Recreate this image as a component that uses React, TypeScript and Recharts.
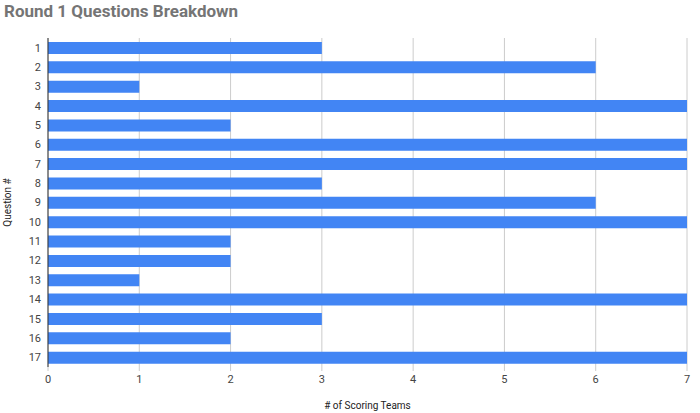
import { BarChart, Bar, XAxis, YAxis, CartesianGrid } from 'recharts'

const questions = ['1', '2', '3', '4', '5', '6', '7', '8', '9', '10', '11', '12', '13', '14', '15', '16', '17']
const scoringTeams = [3, 6, 1, 7, 2, 7, 7, 3, 6, 7, 2, 2, 1, 7, 3, 2, 7]
const xTicks = [0, 1, 2, 3, 4, 5, 6, 7]

const data = questions.map((q, i) => ({ question: q, teams: scoringTeams[i] }))

const font = 'Roboto, "Noto Sans", sans-serif'

export default function App() {
    return (
        <div style={{ position: 'absolute', left: 0, top: 0, width: 700, height: 413, background: '#fff', fontFamily: font }}>
            <div style={{ position: 'absolute', left: 4, top: 1, fontSize: 17, fontWeight: 700, color: '#757575' }}>
                Round 1 Questions Breakdown
            </div>
            <BarChart
                width={700}
                height={413}
                data={data}
                layout="vertical"
                barSize={12}
                margin={{ top: 38, right: 13, left: 0, bottom: 0 }}
            >
                <CartesianGrid horizontal={false} stroke="#cccccc" />
                <XAxis
                    type="number"
                    domain={[0, 7]}
                    ticks={xTicks}
                    height={46}
                    axisLine={false}
                    tickLine={{ stroke: '#cccccc' }}
                    tickSize={4}
                    tickMargin={4}
                    tick={{ fill: '#444', fontSize: 11, fontFamily: font }}
                    label={{ value: '# of Scoring Teams', position: 'insideBottom', offset: 4, fill: '#222', fontSize: 10, fontFamily: font }}
                />
                <YAxis
                    type="category"
                    dataKey="question"
                    width={48}
                    axisLine={{ stroke: '#333' }}
                    tickLine={false}
                    tickSize={0}
                    tickMargin={7}
                    interval={0}
                    tick={{ fill: '#444', fontSize: 11, fontFamily: font }}
                    label={({ viewBox }: any) => (
                        <text
                            x={11}
                            y={viewBox.y + viewBox.height / 2}
                            transform={`rotate(-90, 11, ${viewBox.y + viewBox.height / 2})`}
                            textAnchor="middle"
                            fill="#222"
                            fontSize={10}
                            fontFamily={font}
                        >
                            Question #
                        </text>
                    )}
                />
                <Bar dataKey="teams" fill="#4285f4" isAnimationActive={false} />
            </BarChart>
        </div>
    )
}
